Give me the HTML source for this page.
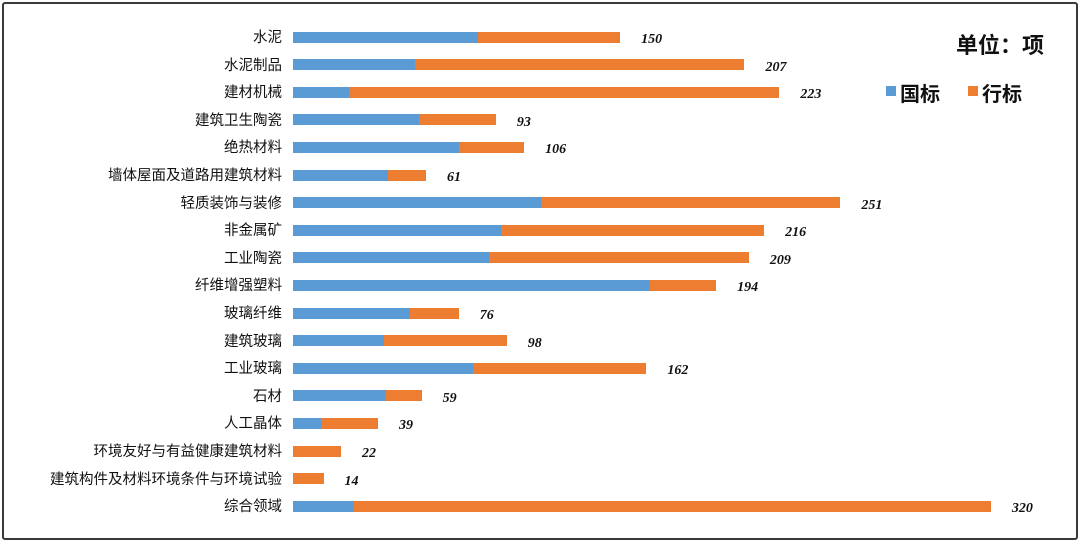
<!DOCTYPE html>
<html><head><meta charset="utf-8"><style>
body{margin:0;width:1080px;height:542px;background:#fff;position:relative;overflow:hidden;font-family:"Liberation Sans","Noto Sans CJK SC",sans-serif}
.frame{position:absolute;left:2px;top:2px;width:1072px;height:534px;border:2px solid #3a3a3a;border-radius:3px}
.lab{position:absolute;right:798px;font-size:14.5px;color:#111;white-space:nowrap;line-height:18px}
.b{position:absolute;height:11px}
.v{position:absolute;font-family:"Liberation Serif",serif;font-style:italic;font-weight:bold;font-size:14px;color:#111;line-height:16px}
</style></head><body>
<div class="frame"></div>
<div style="position:absolute;left:956px;top:28px;font-size:22px;font-weight:bold;color:#111">单位：项</div>
<div style="position:absolute;left:886px;top:86px;width:10px;height:10px;background:#5b9bd5"></div>
<div style="position:absolute;left:900px;top:78px;font-size:20px;font-weight:bold;color:#111">国标</div>
<div style="position:absolute;left:968px;top:86px;width:10px;height:10px;background:#ed7d31"></div>
<div style="position:absolute;left:982px;top:78px;font-size:20px;font-weight:bold;color:#111">行标</div>
<div id="c"></div>
<script>
var d=[["水泥",478,150],["水泥制品",415,207],["建材机械",349,223],["建筑卫生陶瓷",419,93],["绝热材料",459,106],["墙体屋面及道路用建筑材料",388,61],["轻质装饰与装修",541,251],["非金属矿",501,216],["工业陶瓷",489,209],["纤维增强塑料",650,194],["玻璃纤维",410,76],["建筑玻璃",384,98],["工业玻璃",473,162],["石材",386,59],["人工晶体",321,39],["环境友好与有益健康建筑材料",293,22],["建筑构件及材料环境条件与环境试验",293,14],["综合领域",354,320]];
var h="",x0=293,s=2.181;
d.forEach(function(r,i){var y=37+i*27.6,e=x0+r[2]*s;
h+='<div class="lab" style="top:'+(y-8)+'px">'+r[0]+'</div>';
h+='<div class="b" style="left:'+x0+'px;top:'+(y-5.5)+'px;width:'+(r[1]-x0)+'px;background:#5b9bd5"></div>';
h+='<div class="b" style="left:'+r[1]+'px;top:'+(y-5.5)+'px;width:'+(e-r[1])+'px;background:#ed7d31"></div>';
h+='<div class="v" style="left:'+(e+21)+'px;top:'+(y-5)+'px">'+r[2]+'</div>';});
document.getElementById("c").innerHTML=h;
</script>
</body></html>
